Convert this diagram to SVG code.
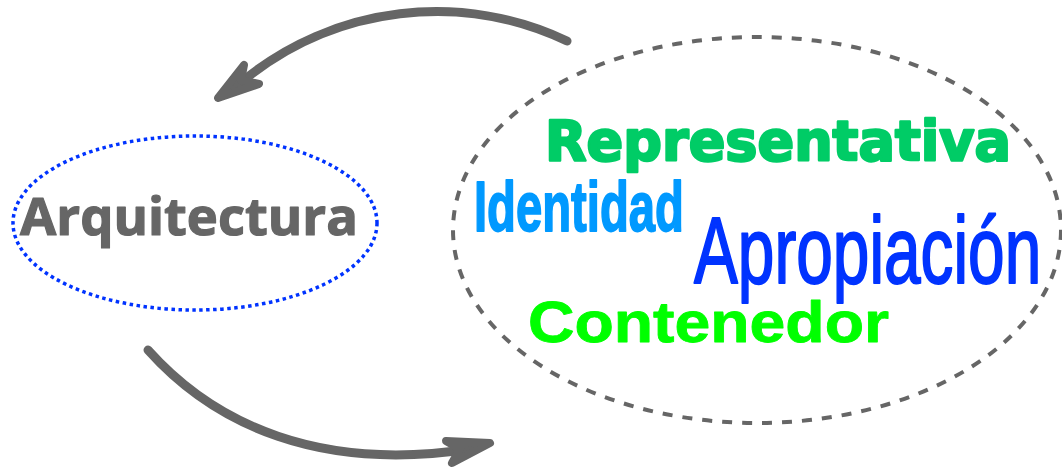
<svg xmlns="http://www.w3.org/2000/svg" width="1062" height="469" viewBox="0 0 1062 469">
  <style>
    .arrow { fill: none; stroke: #666666; stroke-width: 9; stroke-linecap: round; stroke-linejoin: round; }
    .head { fill: #666666; stroke: #666666; stroke-width: 8; stroke-linejoin: round; }
    text { stroke-linejoin: round; }
  </style>
  <rect width="1062" height="469" fill="#ffffff"/>
  <g id="connectors">
    <path class="arrow" d="M567,41 A305,305 0 0 0 244,80"/>
    <path class="head" d="M218,98 L244,65 L241,80 L259,84 Z"/>
    <path class="arrow" d="M148,350 C215,425 320,472 470,449"/>
    <path class="head" d="M490,443 L446,441 L460,449 L452,463 Z"/>
  </g>
  <g id="node-arquitectura">
    <ellipse cx="195" cy="223" rx="182" ry="87" fill="none" stroke="#0033ff" stroke-width="3.5" stroke-dasharray="3.5 3.5"/>
    <text x="20" y="235" font-family="'Open Sans', 'Liberation Sans', sans-serif" font-weight="bold" font-size="52" fill="#666666" stroke="#666666" stroke-width="1.2" textLength="338" lengthAdjust="spacingAndGlyphs">Arquitectura</text>
  </g>
  <g id="node-conceptos">
    <ellipse cx="757" cy="230" rx="304" ry="193" fill="none" stroke="#666666" stroke-width="4" stroke-dasharray="10 10"/>
    <g id="word-representativa">
      <text x="545" y="160" font-family="'DejaVu Sans', sans-serif" font-weight="bold" font-size="56" fill="#00cc66" stroke="#00cc66" stroke-width="2.5" textLength="466" lengthAdjust="spacingAndGlyphs">Representativa</text>
    </g>
    <g id="word-identidad" transform="translate(474,231) scale(0.675,1)">
      <text x="0" y="0" font-family="'Liberation Sans', sans-serif" font-weight="bold" font-size="70" fill="#0099ff" stroke="#0099ff" stroke-width="1.8" textLength="311" lengthAdjust="spacingAndGlyphs">Identidad</text>
    </g>
    <g id="word-apropiacion" transform="translate(694,283) scale(0.7,1)">
      <text x="0" y="0" font-family="'Liberation Sans', sans-serif" font-size="94" fill="#0033ff" stroke="#0033ff" stroke-width="2" textLength="496" lengthAdjust="spacingAndGlyphs">Apropiación</text>
    </g>
    <g id="word-contenedor">
      <text x="528" y="342" font-family="'Liberation Sans', sans-serif" font-weight="bold" font-size="57" fill="#00ff00" stroke="#00ff00" stroke-width="0.8" textLength="361" lengthAdjust="spacingAndGlyphs">Contenedor</text>
    </g>
  </g>
</svg>
